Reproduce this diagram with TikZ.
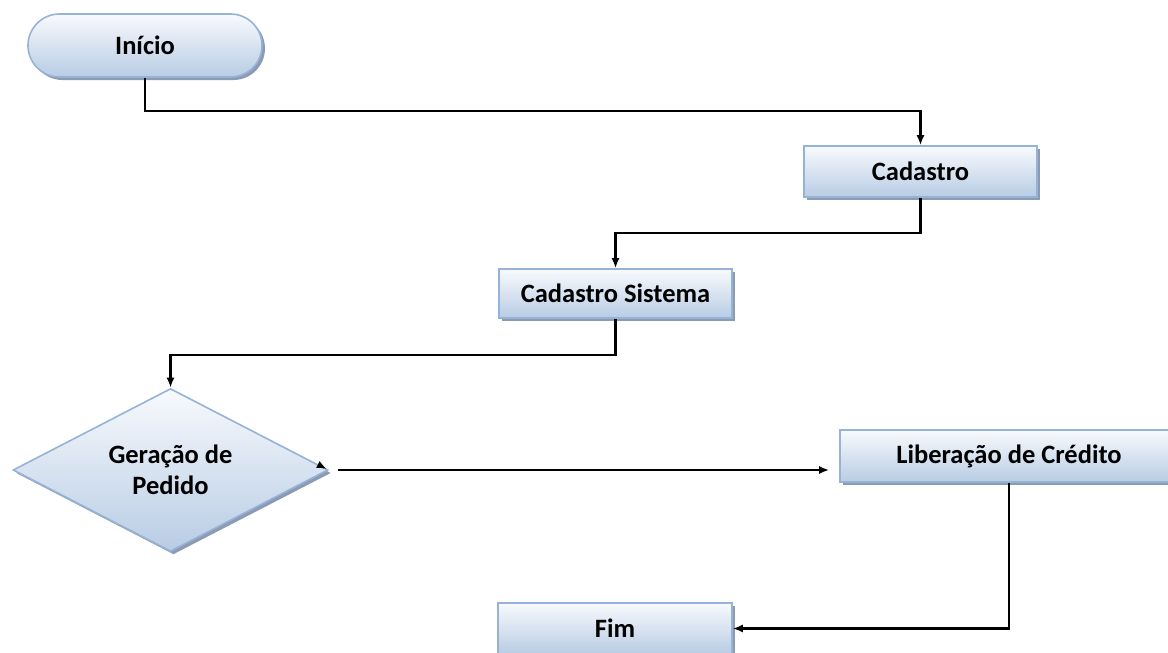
\documentclass[tikz,border=0pt]{standalone}
\usepackage{fontspec}
\setmainfont{Carlito}
\usetikzlibrary{shapes.geometric,shadows,arrows.meta,calc}
\definecolor{topc}{RGB}{248,250,253}
\definecolor{botc}{RGB}{184,204,228}
\definecolor{edgec}{RGB}{149,179,215}
\definecolor{shadc}{RGB}{140,155,178}
\tikzset{
  flowbox/.style={draw=edgec, line width=1.6pt, top color=topc, bottom color=botc,
    inner sep=0pt, align=center, font=\bfseries\fontsize{26.5}{31}\selectfont,
    drop shadow={shadow xshift=3pt, shadow yshift=-3pt, fill=shadc, opacity=1}},
  conn/.style={line width=2.3pt, draw=black, -{Latex[length=10pt,width=8pt]}},
}
\begin{document}
\begin{tikzpicture}[x=1pt,y=-1pt]
\useasboundingbox (0,0) rectangle (1168,653);
\node[flowbox, rounded corners=31.5pt, minimum width=234pt, minimum height=63pt] (ini) at (145,45.5) {Início};
\node[flowbox, minimum width=233pt, minimum height=51pt] (cad) at (920.5,171.5) {Cadastro};
\node[flowbox, minimum width=233pt, minimum height=49pt] (cs) at (615.5,293.5) {Cadastro Sistema};
\node[flowbox, diamond, aspect=1.93, minimum width=315pt, minimum height=163pt] (gp) at (170.5,470) {Geração de\\Pedido};
\node[flowbox, minimum width=338pt, minimum height=52pt] (lib) at (1009,456) {Liberação de Crédito};
\node[flowbox, minimum width=234pt, minimum height=51pt] (fim) at (615,628.5) {Fim};

\draw[conn] (ini.south) -- ++(0,33) -| (cad.north);
\draw[conn] (cad.south) -- ++(0,35) -| (cs.north);
\draw[conn] (cs.south) -- ++(0,36) -| (gp.north);
\coordinate (gpout) at ([xshift=9pt]gp.east);
\coordinate (libin) at ([xshift=-10pt]lib.west |- gp.east);
\draw[conn] (gpout) -- (libin);
\draw[conn] ($(gp.east)+(-10,-5)$) -- ($(gp.east)+(-2,-1)$);
\draw[conn] (lib.south) |- (fim.east);
\end{tikzpicture}
\end{document}
